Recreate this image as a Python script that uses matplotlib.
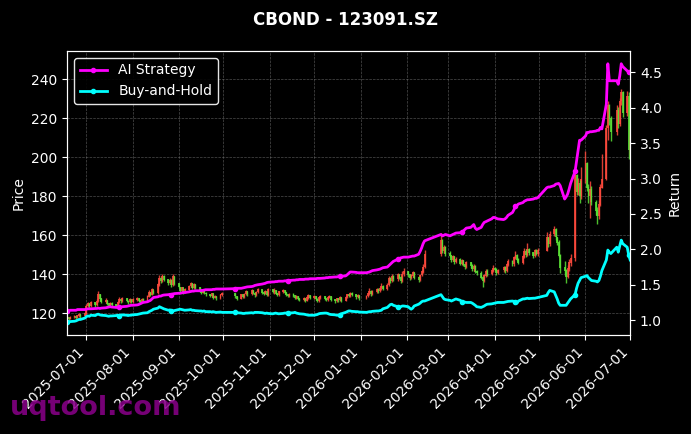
import numpy as np
import pandas as pd
import matplotlib
matplotlib.use("Agg")
import matplotlib.pyplot as plt
import matplotlib.dates as mdates

# trading calendar (SZ exchange holidays removed)
start_date = "2025-06-18"
end_date = "2026-07-01"
holidays = ["2025-10-01", "2025-10-02", "2025-10-03", "2025-10-06", "2025-10-07", "2025-10-08",
            "2026-01-01", "2026-01-02",
            "2026-02-16", "2026-02-17", "2026-02-18", "2026-02-19", "2026-02-20", "2026-02-23",
            "2026-04-06", "2026-05-01", "2026-05-04", "2026-05-05", "2026-06-19"]

first_open = 117.2

close = [
    # 2025-06
    117.5, 117.0, 117.8, 118.2, 117.6, 118.5, 119.0, 118.4, 119.6,
    # 2025-07
    123.5, 124.8, 123.6, 125.2, 124.0, 126.0, 129.5, 127.2, 125.8, 126.5, 124.6, 123.8,
    124.9, 124.2, 123.5, 125.4, 126.8, 126.0, 127.3, 126.1, 125.5, 126.7, 125.9,
    # 2025-08
    126.8, 127.5, 126.4, 125.8, 127.0, 126.3, 128.2, 130.5, 129.4, 131.8, 130.2, 134.5,
    137.8, 136.2, 138.9, 137.0, 135.4, 136.8, 134.2, 138.6, 135.0,
    # 2025-09
    133.2, 131.5, 132.8, 130.6, 131.9, 133.8, 135.2, 132.7, 134.5, 133.0, 131.2, 130.4,
    131.6, 130.1, 129.5, 128.7, 129.8, 127.9, 128.4, 127.6, 129.3, 130.0,
    # 2025-10
    128.5, 127.4, 129.2, 128.0, 129.6, 130.8, 129.5, 131.4, 130.2, 129.0, 130.6, 131.8,
    130.5, 129.8, 131.2, 129.1, 132.0,
    # 2025-11
    130.6, 131.5, 130.0, 129.2, 130.8, 131.6, 130.3, 129.4, 128.6, 129.7, 128.9, 127.8,
    128.5, 127.2, 126.6, 127.5, 126.2, 127.9, 128.8, 127.6,
    # 2025-12
    128.4, 127.1, 126.3, 127.7, 128.6, 127.4, 126.8, 127.9, 128.3, 126.9, 126.0, 127.2,
    126.5, 127.8, 126.4, 128.1, 129.3, 128.6, 130.2, 129.4, 128.0, 128.9, 127.5,
    # 2026-01
    128.6, 129.8, 131.2, 129.5, 130.8, 132.0, 131.1, 132.6, 133.8, 132.4, 134.2, 137.5,
    136.4, 138.6, 137.2, 139.5, 138.0, 136.5, 139.8, 141.2,
    # 2026-02
    139.6, 137.8, 139.2, 140.5, 138.1, 137.0, 139.4, 141.0, 143.5, 150.2, 157.0, 151.8,
    153.5, 150.4,
    # 2026-03
    149.5, 147.2, 148.8, 146.0, 147.5, 145.3, 146.9, 144.8, 143.6, 145.7, 144.1, 142.5,
    143.9, 141.2, 140.3, 138.2, 136.5, 139.0, 141.3, 140.1, 141.8, 143.0,
    # 2026-04
    142.1, 140.6, 141.9, 143.2, 141.5, 144.8, 146.5, 145.0, 148.2, 149.6, 147.3, 145.8,
    148.9, 151.5, 149.7, 152.4, 150.8, 149.2, 151.9, 150.3, 152.0,
    # 2026-05
    158.5, 155.2, 160.4, 162.8, 158.9, 156.1, 149.5, 143.2, 141.8, 138.5, 142.6, 145.9,
    148.0, 190.5, 182.0, 186.5, 179.8, 188.6,
    # 2026-06
    196.5, 184.3, 180.2, 183.5, 176.8, 172.4, 169.8, 175.6, 184.2, 188.5, 214.8, 226.4,
    219.5, 212.6, 224.0, 217.2, 228.6, 233.2, 222.5, 231.0, 203.5,
    # 2026-07
    210.0,
]

high = [
    118.3, 118.0, 118.5, 118.9, 118.5, 119.2, 119.8, 119.5, 120.4,
    124.6, 125.9, 125.3, 126.1, 125.6, 127.0, 131.4, 130.0, 127.8, 127.6, 126.8, 125.2,
    125.8, 125.5, 124.6, 126.2, 128.0, 127.4, 128.3, 127.6, 126.5, 127.5, 127.2,
    127.6, 128.4, 127.8, 126.7, 127.9, 127.5, 129.0, 131.6, 131.0, 132.6, 132.0, 135.6,
    139.5, 138.6, 140.2, 139.3, 137.4, 138.0, 137.2, 139.8, 139.0,
    135.5, 133.6, 133.5, 133.0, 132.6, 134.5, 136.0, 135.6, 135.2, 134.8, 133.4, 131.5,
    132.2, 131.8, 130.6, 129.8, 130.5, 130.0, 129.2, 128.8, 130.0, 131.0,
    130.5, 128.8, 129.8, 129.5, 130.2, 131.6, 131.2, 132.5, 131.8, 130.6, 131.3, 133.0,
    132.0, 130.9, 131.9, 131.5, 133.0,
    132.5, 133.0, 131.9, 130.5, 131.4, 132.5, 132.0, 130.8, 129.9, 130.3, 130.2, 129.4,
    129.1, 128.9, 127.8, 128.2, 127.9, 128.6, 129.6, 129.3,
    129.2, 128.9, 127.6, 128.3, 129.3, 128.9, 127.9, 128.5, 129.1, 128.8, 127.4, 127.9,
    127.7, 128.5, 128.3, 128.7, 130.0, 129.8, 131.0, 130.8, 129.9, 129.6, 129.4,
    129.4, 130.5, 132.8, 131.8, 131.6, 133.0, 132.6, 133.4, 135.4, 134.5, 135.3, 139.0,
    138.6, 140.2, 139.6, 140.5, 140.2, 138.9, 141.3, 143.0,
    141.8, 140.2, 140.0, 141.3, 141.0, 138.8, 140.2, 142.0, 145.0, 152.4, 161.0, 158.2,
    155.0, 154.3,
    151.8, 150.0, 149.9, 149.2, 148.6, 148.0, 147.8, 147.2, 145.3, 146.9, 146.4, 144.9,
    145.2, 144.4, 142.0, 141.5, 139.0, 140.2, 142.5, 142.6, 142.8, 144.6,
    143.8, 142.9, 142.6, 144.0, 143.9, 145.9, 147.6, 147.2, 149.3, 151.9, 150.4, 148.0,
    149.7, 153.6, 152.6, 155.8, 153.6, 151.5, 153.0, 152.8, 153.5,
    161.5, 158.9, 162.0, 164.6, 163.5, 158.2, 157.5, 150.2, 146.5, 142.8, 144.5, 147.8,
    150.2, 194.4, 191.2, 189.0, 188.3, 195.0,
    203.0, 197.4, 186.1, 187.7, 184.9, 178.0, 174.5, 178.2, 186.0, 201.6, 216.5, 228.7,
    227.2, 221.0, 226.8, 225.6, 230.5, 235.0, 234.1, 233.8, 233.5,
    214.2,
]

low = [
    116.6, 116.3, 116.8, 117.3, 116.9, 117.5, 118.0, 117.6, 118.2,
    119.2, 123.0, 122.8, 123.1, 123.3, 123.5, 125.4, 126.3, 125.0, 125.2, 124.0, 123.0,
    123.5, 123.6, 122.6, 123.2, 125.0, 125.2, 125.6, 125.4, 124.7, 125.1, 125.0,
    125.3, 126.4, 125.7, 125.0, 125.5, 125.8, 126.0, 128.0, 128.7, 129.0, 129.6, 130.0,
    134.0, 135.5, 135.8, 136.2, 134.6, 135.0, 133.5, 133.8, 134.3,
    132.6, 130.8, 131.0, 130.0, 130.2, 131.4, 133.2, 132.1, 132.4, 132.5, 130.7, 129.8,
    130.1, 129.6, 128.9, 128.1, 128.3, 127.2, 127.5, 126.8, 127.3, 128.7,
    127.9, 126.8, 127.1, 127.6, 127.5, 129.3, 128.9, 129.1, 129.8, 128.4, 128.6, 130.2,
    130.0, 129.2, 129.5, 128.5, 128.8,
    130.1, 130.0, 129.6, 128.7, 128.9, 130.3, 129.8, 128.9, 128.0, 128.1, 128.3, 127.2,
    127.3, 126.7, 126.0, 126.1, 125.6, 126.0, 127.4, 127.0,
    127.0, 126.6, 125.7, 125.9, 127.2, 126.8, 126.1, 126.3, 127.5, 126.2, 125.3, 125.6,
    125.8, 126.1, 125.8, 126.0, 127.6, 128.0, 128.2, 128.8, 127.4, 127.6, 126.9,
    127.0, 128.1, 129.3, 128.9, 129.0, 130.3, 130.5, 130.8, 132.0, 131.8, 132.0, 133.8,
    135.6, 135.9, 136.5, 136.6, 137.2, 135.6, 135.9, 138.8,
    138.7, 137.0, 137.2, 138.6, 137.4, 135.8, 136.5, 138.8, 140.5, 143.0, 149.5, 150.6,
    150.9, 149.4,
    148.6, 146.4, 146.5, 145.2, 145.4, 144.6, 144.5, 144.0, 142.8, 143.0, 143.3, 141.6,
    141.8, 140.6, 139.3, 137.4, 133.2, 135.8, 138.4, 139.2, 139.4, 141.1,
    141.3, 139.7, 139.9, 141.2, 140.6, 141.0, 144.0, 144.1, 144.3, 147.6, 146.6, 144.9,
    145.2, 148.2, 148.8, 149.0, 149.8, 148.3, 148.5, 149.6, 149.4,
    151.8, 154.0, 154.6, 159.5, 157.6, 154.8, 148.6, 140.6, 139.5, 135.2, 137.8, 141.5,
    144.0, 146.5, 180.5, 180.4, 176.2, 178.5,
    186.8, 182.6, 176.4, 168.7, 175.5, 170.3, 165.6, 168.4, 174.9, 183.9, 188.0, 208.5,
    216.3, 208.0, 211.5, 215.0, 216.1, 226.7, 220.3, 221.0, 199.0,
    201.5,
]

ai_strategy = [
    1.13, 1.13, 1.14, 1.14, 1.14, 1.15, 1.15, 1.15, 1.15,
    1.155, 1.16, 1.16, 1.16, 1.165, 1.165, 1.17, 1.165, 1.17, 1.175, 1.18, 1.185,
    1.19, 1.185, 1.18, 1.185, 1.18, 1.18, 1.19, 1.195, 1.20, 1.205, 1.21,
    1.21, 1.215, 1.22, 1.23, 1.24, 1.25, 1.26, 1.27, 1.28, 1.30, 1.32, 1.33,
    1.34, 1.34, 1.35, 1.355, 1.36, 1.365, 1.36, 1.37, 1.375,
    1.38, 1.38, 1.385, 1.39, 1.39, 1.40, 1.405, 1.41, 1.41, 1.415, 1.415, 1.42,
    1.42, 1.425, 1.43, 1.43, 1.43, 1.435, 1.435, 1.44, 1.44, 1.44,
    1.445, 1.45, 1.45, 1.455, 1.46, 1.465, 1.47, 1.475, 1.48, 1.49, 1.495, 1.50,
    1.51, 1.515, 1.52, 1.53, 1.535,
    1.54, 1.54, 1.545, 1.545, 1.55, 1.55, 1.555, 1.555, 1.56, 1.56, 1.565, 1.565,
    1.57, 1.57, 1.575, 1.575, 1.58, 1.58, 1.58, 1.585,
    1.585, 1.585, 1.59, 1.59, 1.59, 1.595, 1.60, 1.60, 1.605, 1.605, 1.61, 1.61,
    1.615, 1.62, 1.62, 1.625, 1.64, 1.66, 1.68, 1.68, 1.675, 1.67, 1.67,
    1.67, 1.675, 1.68, 1.69, 1.70, 1.71, 1.715, 1.72, 1.73, 1.74, 1.75, 1.77,
    1.79, 1.81, 1.83, 1.86, 1.87, 1.88, 1.885, 1.89,
    1.89, 1.895, 1.90, 1.905, 1.905, 1.93, 1.97, 2.02, 2.08, 2.12, 2.21, 2.19,
    2.20, 2.21,
    2.19, 2.20, 2.21, 2.22, 2.23, 2.235, 2.24, 2.26, 2.28, 2.30, 2.31, 2.33,
    2.35, 2.30, 2.28, 2.31, 2.35, 2.38, 2.39, 2.40, 2.43, 2.45,
    2.45, 2.44, 2.43, 2.42, 2.43, 2.45, 2.48, 2.52, 2.56, 2.61, 2.62, 2.64,
    2.66, 2.68, 2.69, 2.70, 2.70, 2.71, 2.72, 2.72, 2.73,
    2.87, 2.88, 2.88, 2.90, 2.92, 2.925, 2.93, 2.90, 2.71, 2.74, 2.78, 2.85,
    2.93, 3.10, 3.25, 3.39, 3.54, 3.54,
    3.60, 3.65, 3.65, 3.66, 3.66, 3.67, 3.68, 3.68, 3.72, 3.70, 4.05, 4.62,
    4.38, 4.38, 4.38, 4.33, 4.45, 4.62, 4.58, 4.52, 4.50,
    4.50,
]

buy_hold = [
    0.97, 0.975, 0.98, 0.985, 0.99, 1.00, 1.01, 1.01, 1.03,
    1.05, 1.06, 1.055, 1.07, 1.065, 1.08, 1.085, 1.075, 1.07, 1.065, 1.06, 1.055,
    1.06, 1.06, 1.065, 1.07, 1.065, 1.07, 1.075, 1.07, 1.065, 1.07, 1.07,
    1.075, 1.08, 1.085, 1.09, 1.095, 1.10, 1.105, 1.12, 1.13, 1.14, 1.155, 1.17,
    1.19, 1.18, 1.17, 1.16, 1.14, 1.145, 1.135, 1.13, 1.135,
    1.15, 1.155, 1.15, 1.145, 1.14, 1.145, 1.15, 1.14, 1.14, 1.135, 1.13, 1.13,
    1.125, 1.13, 1.12, 1.12, 1.115, 1.12, 1.115, 1.11, 1.115, 1.11,
    1.11, 1.105, 1.10, 1.095, 1.095, 1.10, 1.10, 1.105, 1.10, 1.11, 1.11, 1.11,
    1.105, 1.10, 1.095, 1.10, 1.095,
    1.09, 1.095, 1.10, 1.095, 1.09, 1.095, 1.10, 1.10, 1.105, 1.10, 1.105, 1.11,
    1.10, 1.095, 1.09, 1.085, 1.08, 1.075, 1.07, 1.07,
    1.07, 1.075, 1.08, 1.09, 1.095, 1.10, 1.10, 1.095, 1.085, 1.08, 1.075, 1.07,
    1.07, 1.075, 1.09, 1.11, 1.12, 1.13, 1.13, 1.125, 1.12, 1.12, 1.115,
    1.11, 1.115, 1.12, 1.12, 1.125, 1.13, 1.13, 1.135, 1.14, 1.16, 1.18, 1.20,
    1.22, 1.225, 1.21, 1.19, 1.18, 1.19, 1.20, 1.20,
    1.19, 1.17, 1.155, 1.17, 1.20, 1.225, 1.24, 1.26, 1.27, 1.27, 1.36, 1.33,
    1.30, 1.29,
    1.28, 1.27, 1.28, 1.29, 1.30, 1.28, 1.26, 1.26, 1.255, 1.25, 1.25, 1.24,
    1.225, 1.21, 1.19, 1.18, 1.19, 1.20, 1.215, 1.225, 1.23, 1.235,
    1.24, 1.245, 1.25, 1.25, 1.255, 1.26, 1.265, 1.27, 1.265, 1.25, 1.24, 1.27,
    1.30, 1.30, 1.305, 1.31, 1.305, 1.31, 1.31, 1.315, 1.32,
    1.35, 1.39, 1.42, 1.40, 1.35, 1.30, 1.24, 1.21, 1.21, 1.21, 1.24, 1.27,
    1.30, 1.36, 1.45, 1.52, 1.56, 1.60,
    1.62, 1.63, 1.60, 1.58, 1.56, 1.55, 1.54, 1.56, 1.62, 1.70, 1.85, 1.99,
    1.96, 1.94, 2.03, 1.96, 2.05, 2.13, 2.08, 2.03, 1.92,
    1.85,
]

dates = pd.bdate_range(start_date, end_date)
dates = dates[~dates.isin(pd.to_datetime(holidays))]
x = mdates.date2num(dates)

c = np.array(close)
o = np.array([first_open] + close[:-1])
h = np.maximum(np.array(high), np.maximum(o, c))
l = np.minimum(np.array(low), np.minimum(o, c))
up = c >= o
colors = np.where(up, "#ff4a3d", "#5be236")

plt.style.use("dark_background")
fig, ax = plt.subplots(figsize=(6.91, 4.34), dpi=100)
fig.subplots_adjust(left=0.097, right=0.912, top=0.8825, bottom=0.228)

# candles
ax.vlines(x, l, h, colors=colors, linewidth=1.0, alpha=0.85)
ax.bar(x, np.abs(c - o) + 0.3, bottom=np.minimum(o, c), width=1.3, color=colors, alpha=0.85)
ax.set_ylabel("Price")
ax.set_ylim(108.7, 254.4)
ax.set_xlim(x[0], x[-1])
ax.grid(True, color="gray", linestyle="--", linewidth=0.5, alpha=0.6)

ax.xaxis.set_major_locator(mdates.MonthLocator())
ax.xaxis.set_major_formatter(mdates.DateFormatter("%Y-%m-%d"))
plt.setp(ax.get_xticklabels(), rotation=45, ha="right")

# returns on the right axis
ax2 = ax.twinx()
ax2.plot(x, ai_strategy, color="#ff00ff", linewidth=2, marker="o", markersize=3,
         markevery=25, label="AI Strategy")
ax2.plot(x, buy_hold, color="#00ffff", linewidth=2, marker="o", markersize=3,
         markevery=25, label="Buy-and-Hold")
ax2.set_ylabel("Return")
ax2.set_ylim(0.79, 4.80)
ax2.legend(loc="upper left", facecolor="black", edgecolor="white", framealpha=0.9)

fig.suptitle("CBOND - 123091.SZ", fontsize=12, fontweight="bold", y=0.975)
fig.text(0.014, 0.06, "uqtool.com", fontsize=19.5, fontweight="bold", color="#8b008b",
         alpha=0.85, va="center", ha="left")

fig.savefig("out.png", dpi=100, facecolor="black")
